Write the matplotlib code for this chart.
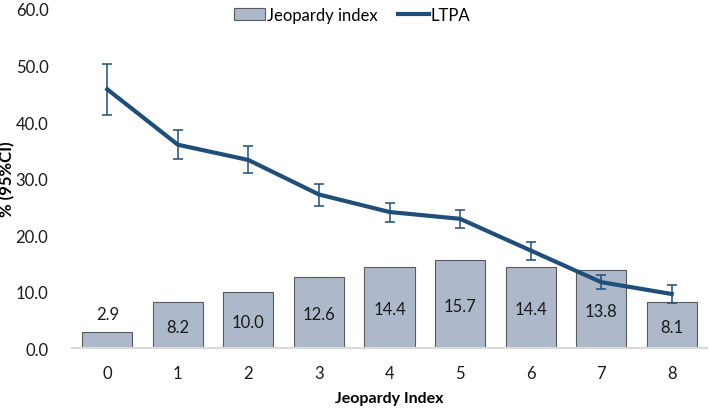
import matplotlib.pyplot as plt
import numpy as np
from matplotlib.lines import Line2D

plt.rcParams['font.family'] = ['Lato', 'DejaVu Sans']

# Data
categories = ['0', '1', '2', '3', '4', '5', '6', '7', '8']
jeopardy = [2.9, 8.2, 10.0, 12.6, 14.4, 15.7, 14.4, 13.8, 8.1]
ltpa = [45.8, 36.0, 33.3, 27.2, 24.1, 22.9, 17.3, 11.7, 9.6]
ltpa_low = [41.2, 33.5, 31.0, 25.2, 22.4, 21.3, 15.6, 10.5, 8.0]
ltpa_high = [50.3, 38.6, 35.7, 29.1, 25.7, 24.5, 18.8, 13.0, 11.2]
yticks = [0, 10, 20, 30, 40, 50, 60]

x = np.arange(len(categories))
ltpa = np.array(ltpa)
err = [ltpa - np.array(ltpa_low), np.array(ltpa_high) - ltpa]

fig = plt.figure(figsize=(7.09, 4.10), dpi=100)
ax = fig.add_axes([72 / 709, 1 - 349.3 / 410, 635 / 709, 339.3 / 410])

bars = ax.bar(x, jeopardy, width=0.71, color='#ADB9CA', edgecolor='#595959',
              linewidth=0.8, label='Jeopardy index', zorder=2)

# value labels: centred in the bar, the small first one above it
for xi, v in zip(x, jeopardy):
    if v < 5:
        ax.text(xi, v + 3.2, f'{v:.1f}', ha='center', va='center', fontsize=12, color='#1a1a1a')
    else:
        ax.text(xi, v / 2 - 0.3, f'{v:.1f}', ha='center', va='center', fontsize=12, color='#1a1a1a')

ax.errorbar(x, ltpa, yerr=err, color='#1F4E79', linewidth=3, elinewidth=1.1,
            capsize=3.5, capthick=1.1, label='LTPA', zorder=3)

ax.set_xlim(-0.5, 8.5)
ax.set_ylim(0, 60)
ax.set_yticks(yticks)
ax.set_yticklabels([f'{t:.1f}' for t in yticks])
ax.set_xticks(x)
ax.set_xticklabels(categories)
ax.tick_params(axis='both', length=0, labelsize=12, colors='#1a1a1a')
ax.tick_params(axis='y', pad=17)
ax.tick_params(axis='x', pad=12)

for side in ['top', 'right', 'left']:
    ax.spines[side].set_visible(False)
ax.spines['bottom'].set_color('#D9D9D9')
ax.spines['bottom'].set_linewidth(1.5)

ax.set_xlabel('Jeopardy Index', fontsize=11.5, fontweight='bold')
ax.xaxis.set_label_coords(0.5, (349.3 - 392) / 339.3)
ax.set_ylabel('% (95%CI)', fontsize=12, fontweight='bold')
ax.yaxis.set_label_coords(-0.09, 0.5)

handles = [bars, Line2D([0], [0], color='#1F4E79', linewidth=3)]
fig.legend(handles, ['Jeopardy index', 'LTPA'], loc='center', bbox_to_anchor=(352 / 709, 1 - 16 / 410),
           ncol=2, frameon=False, fontsize=12, handlelength=1.9, handletextpad=0.1,
           columnspacing=1.2)

fig.savefig('out.png', dpi=100)
